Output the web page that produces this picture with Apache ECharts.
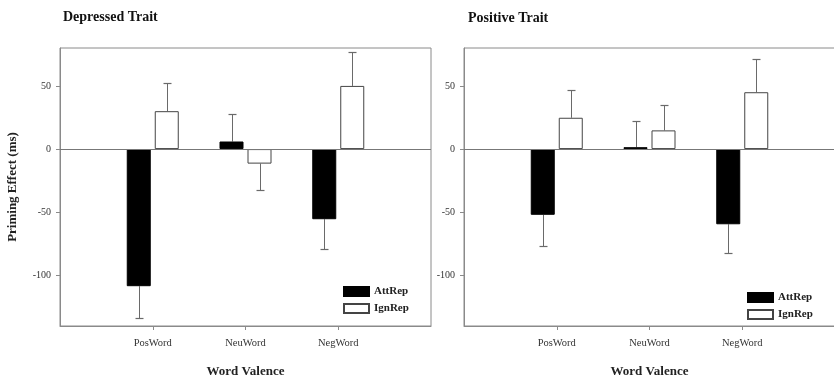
<!DOCTYPE html>
<html><head><meta charset="utf-8">
<script src="https://cdn.jsdelivr.net/npm/echarts@6/dist/echarts.min.js"></script>
<style>html,body{margin:0;padding:0;background:#fff}#c{width:834px;height:382px}</style>
</head><body><div id="c"></div>
<script>
const categories = ['PosWord', 'NeuWord', 'NegWord'];
const panelTitles = ['Depressed Trait', 'Positive Trait'];
const seriesNames = ['AttRep', 'IgnRep'];
const yTicks = [-100, -50, 0, 50];
// Depressed Trait
const depAtt = [-108.5, 6, -55.5];
const depAttErr = [25, 21.5, 23.5];
const depIgn = [30, -11.5, 50];
const depIgnErr = [22, 20.5, 27];
// Positive Trait
const posAtt = [-52, 1.5, -59.5];
const posAttErr = [24.5, 21, 23];
const posIgn = [24.8, 14.8, 45];
const posIgnErr = [22, 20, 26];

const padded = [''].concat(categories, ['']);
const pad = arr => [null].concat(arr, [null]);
const FONT = '"Liberation Serif", "Times New Roman", serif';
const AXC = '#8a8a8a';
const BW = 24, GAP = 4;

function errSeries(gi, vals, errs, offset) {
  const data = vals.map((v, i) => [i + 1, v, errs[i]]);
  return {
    type: 'custom', xAxisIndex: gi, yAxisIndex: gi, silent: true, z: 1,
    data: data,
    renderItem: function (params, api) {
      const x = api.value(0), v = api.value(1), e = api.value(2);
      const end = v >= 0 ? v + e : v - e;
      const p0 = api.coord([x, v]);
      const p1 = api.coord([x, end]);
      const cx = Math.round(p0[0] + offset) + 0.5;
      const y1 = Math.round(p1[1]) + 0.5;
      return { type: 'group', children: [
        { type: 'line', shape: { x1: cx, y1: p0[1], x2: cx, y2: y1 }, style: { stroke: '#6a6a6a', lineWidth: 1 } },
        { type: 'line', shape: { x1: cx - 4, y1: y1, x2: cx + 4, y2: y1 }, style: { stroke: '#6a6a6a', lineWidth: 1.2 } }
      ]};
    }
  };
}

const grids = [
  { left: 60, top: 48, width: 371, height: 278, show: true, borderColor: AXC, borderWidth: 1, containLabel: false, outerBoundsMode: 'none' },
  { left: 464, top: 48, width: 371, height: 278, show: true, borderColor: AXC, borderWidth: 1, containLabel: false, outerBoundsMode: 'none' }
];
const xAxes = [0, 1].map(gi => ({
  type: 'category', gridIndex: gi, data: padded, boundaryGap: false,
  axisLine: { onZero: false, lineStyle: { color: AXC } },
  axisTick: { interval: (i, v) => v !== '', length: 4, lineStyle: { color: AXC } },
  axisLabel: { interval: 0, margin: 12, fontFamily: FONT, fontSize: 10.5, color: '#333' },
  name: 'Word Valence', nameLocation: 'middle', nameGap: 39,
  nameTextStyle: { fontFamily: FONT, fontWeight: 'bold', fontSize: 13, color: '#222' },
  splitLine: { show: false }
}));
const yAxes = [0, 1].map(gi => ({
  type: 'value', gridIndex: gi, min: -140, max: 80,
  axisLine: { show: true, lineStyle: { color: AXC } },
  axisTick: { show: true, length: 4, customValues: yTicks, lineStyle: { color: AXC } },
  axisLabel: { customValues: yTicks, margin: 9, fontFamily: FONT, fontSize: 10, color: '#333' },
  splitLine: { show: false },
  name: gi === 0 ? 'Priming Effect (ms)' : '', nameLocation: 'middle', nameGap: 41,
  nameTextStyle: { fontFamily: FONT, fontWeight: 'bold', fontSize: 13, color: '#222' }
}));

function barPair(gi, att, ign) {
  return [
    { name: seriesNames[0], type: 'bar', xAxisIndex: gi, yAxisIndex: gi, data: pad(att),
      barWidth: BW, barGap: (GAP / BW * 100) + '%', z: 2,
      itemStyle: { color: '#000', borderColor: '#000', borderWidth: 1 },
      markLine: { silent: true, symbol: 'none', label: { show: false },
        lineStyle: { color: '#777', type: 'solid', width: 1 }, data: [{ yAxis: 0 }] } },
    { name: seriesNames[1], type: 'bar', xAxisIndex: gi, yAxisIndex: gi, data: pad(ign),
      barWidth: BW, barGap: (GAP / BW * 100) + '%', z: 2,
      itemStyle: { color: '#fff', borderColor: '#444', borderWidth: 1 } }
  ];
}

const off = (BW + GAP) / 2;
const series = [].concat(
  barPair(0, depAtt, depIgn),
  barPair(1, posAtt, posIgn),
  [errSeries(0, depAtt, depAttErr, -off), errSeries(0, depIgn, depIgnErr, off),
   errSeries(1, posAtt, posAttErr, -off), errSeries(1, posIgn, posIgnErr, off)]
);

const legendBase = {
  orient: 'vertical', itemWidth: 25, itemHeight: 9, itemGap: 6, icon: 'rect',
  data: seriesNames, selectedMode: false, padding: 0,
  textStyle: { fontFamily: FONT, fontWeight: 'bold', fontSize: 11, color: '#222' }
};

const chart = echarts.init(document.getElementById('c'), null, { renderer: 'canvas' });
chart.setOption({
  animation: false,
  backgroundColor: '#fff',
  title: [
    { text: panelTitles[0], left: 58, top: 5, textStyle: { fontFamily: FONT, fontWeight: 'bold', fontSize: 14, color: '#111' } },
    { text: panelTitles[1], left: 463, top: 6, textStyle: { fontFamily: FONT, fontWeight: 'bold', fontSize: 14, color: '#111' } }
  ],
  legend: [
    Object.assign({ left: 343, top: 286 }, legendBase),
    Object.assign({ left: 747, top: 292 }, legendBase)
  ],
  grid: grids, xAxis: xAxes, yAxis: yAxes, series: series
});
</script></body></html>
